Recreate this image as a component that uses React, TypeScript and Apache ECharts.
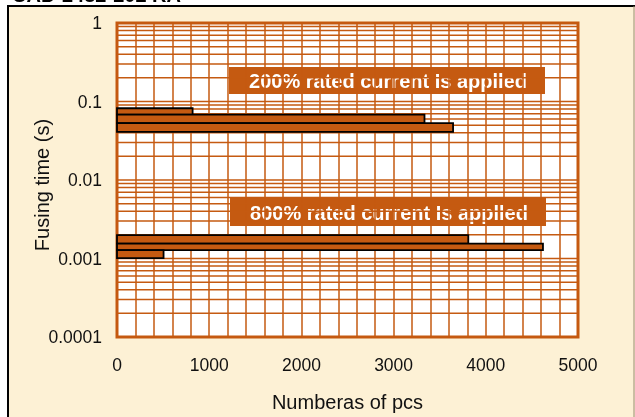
import React, { useEffect, useRef } from "react";
import * as echarts from "echarts";

// ---- data ----
const yTickLabels = ["0.0001", "0.001", "0.01", "0.1", "1"];
const xTickLabels = ["0", "1000", "2000", "3000", "4000", "5000"];

// fusing-time bin edges (s) and counts for each current level
const edges200 = [0.082, 0.068, 0.053, 0.041];
const counts200 = [820, 3335, 3645];
const edges800 = [0.00198, 0.00155, 0.00128, 0.00101];
const counts800 = [3810, 4620, 505];

const label200 = "200% rated current Is applled";
const label800 = "800% rated current Is applled";
const xName = "Numberas of pcs";
const yName = "Fusing time (s)";
const titleText = "CAD-2432-202 RA";

const ORANGE = "#C55A11";
const CREAM = "#FDF1D5";
const FONT = "Arial, 'Liberation Sans', sans-serif";

export default function App() {
  const ref = useRef<HTMLDivElement>(null);
  useEffect(() => {
    if (!ref.current) return;
    const chart = echarts.init(ref.current, undefined, { renderer: "svg" });

    const barData: number[][] = [];
    counts200.forEach((c, i) => barData.push([c, edges200[i], edges200[i + 1]]));
    counts800.forEach((c, i) => barData.push([c, edges800[i], edges800[i + 1]]));

    const gridVals: number[][] = [];
    for (let d = -4; d <= -1; d++) {
      for (let k = 2; k <= 9; k++) gridVals.push([0, k * Math.pow(10, d)]);
    }
    for (let d = -4; d <= 0; d++) gridVals.push([0, Math.pow(10, d)]);

    const minX = Number(xTickLabels[0]);
    const maxX = Number(xTickLabels[xTickLabels.length - 1]);

    chart.setOption({
      animation: false,
      backgroundColor: "transparent",
      textStyle: { fontFamily: FONT },
      graphic: [
        {
          type: "rect",
          z: -10,
          shape: { x: 8, y: 6, width: 640, height: 420 },
          style: { fill: CREAM, stroke: "#000", lineWidth: 2 },
          silent: true,
        },
        {
          type: "line",
          shape: { x1: 634, y1: 6, x2: 634, y2: 417 },
          style: { stroke: "#9a8a70", lineWidth: 1 },
          silent: true,
        },
        {
          type: "text",
          x: 12,
          y: -15,
          style: {
            text: titleText,
            fill: "#000",
            font: "bold 20px " + FONT,
          },
          silent: true,
        },
        {
          type: "group",
          z: 100,
          children: [
            {
              type: "rect",
              shape: { x: 229, y: 67, width: 316, height: 27 },
              style: { fill: ORANGE },
            },
            {
              type: "text",
              x: 388,
              y: 81,
              style: {
                text: label200,
                fill: "#fff",
                font: "bold 20px " + FONT,
                align: "center",
                verticalAlign: "middle",
              },
            },
            {
              type: "rect",
              shape: { x: 230, y: 198, width: 316, height: 28 },
              style: { fill: ORANGE },
            },
            {
              type: "text",
              x: 389,
              y: 213,
              style: {
                text: label800,
                fill: "#fff",
                font: "bold 20px " + FONT,
                align: "center",
                verticalAlign: "middle",
              },
            },
          ],
        },
      ],
      grid: {
        left: 117,
        top: 23,
        width: 461,
        height: 317,
        show: true,
        backgroundColor: "#fff",
        borderColor: ORANGE,
        borderWidth: 3,
      },
      xAxis: {
        type: "value",
        min: minX,
        max: maxX,
        interval: 1000,
        name: xName,
        nameLocation: "middle",
        nameGap: 55,
        nameTextStyle: { fontSize: 20, color: "#111" },
        axisLine: { show: false },
        axisTick: { show: false },
        axisLabel: {
          fontSize: 17.5,
          color: "#111",
          margin: 19,
          formatter: (v: number) => xTickLabels[Math.round(v / 1000)] ?? String(v),
        },
        splitLine: { show: true, lineStyle: { color: ORANGE, width: 1.5 } },
        minorTick: { show: false, splitNumber: 5 },
        minorSplitLine: { show: true, lineStyle: { color: ORANGE, width: 1.5 } },
      },
      yAxis: {
        type: "log",
        logBase: 10,
        min: 0.0001,
        max: 1,
        name: yName,
        nameLocation: "middle",
        nameGap: 65,
        nameMoveOverlap: false,
        nameTextStyle: { fontSize: 20, color: "#111", padding: [0, 10, 0, 0] },
        axisLine: { show: false },
        axisTick: { show: false },
        splitLine: { show: false },
        axisLabel: {
          fontSize: 17.5,
          color: "#111",
          margin: 15,
          formatter: (v: number) => {
            const idx = Math.round(Math.log10(v)) + 4;
            return yTickLabels[idx] ?? String(v);
          },
        },
      },
      series: [
        {
          type: "custom",
          z: 1,
          silent: true,
          encode: { x: 0, y: 1 },
          data: gridVals,
          clip: false,
          renderItem: (params: any, api: any) => {
            const v = api.value(1);
            const p1 = api.coord([minX, v]);
            const p2 = api.coord([maxX, v]);
            return {
              type: "line",
              shape: { x1: p1[0], y1: p1[1], x2: p2[0], y2: p2[1] },
              style: { stroke: ORANGE, lineWidth: 1.5 },
            };
          },
        },
        {
          type: "custom",
          z: 5,
          encode: { x: 0, y: [1, 2] },
          data: barData,
          renderItem: (params: any, api: any) => {
            const c = api.value(0);
            const hi = api.value(1);
            const lo = api.value(2);
            const p1 = api.coord([0, hi]);
            const p2 = api.coord([c, lo]);
            return {
              type: "rect",
              shape: {
                x: p1[0],
                y: p1[1],
                width: p2[0] - p1[0],
                height: p2[1] - p1[1],
              },
              style: { fill: ORANGE, stroke: "#000", lineWidth: 1.8 },
            };
          },
        },
      ],
    });
    return () => chart.dispose();
  }, []);
  return (
    <div
      ref={ref}
      style={{ position: "fixed", left: 0, top: 0, width: 635, height: 417 }}
    />
  );
}
